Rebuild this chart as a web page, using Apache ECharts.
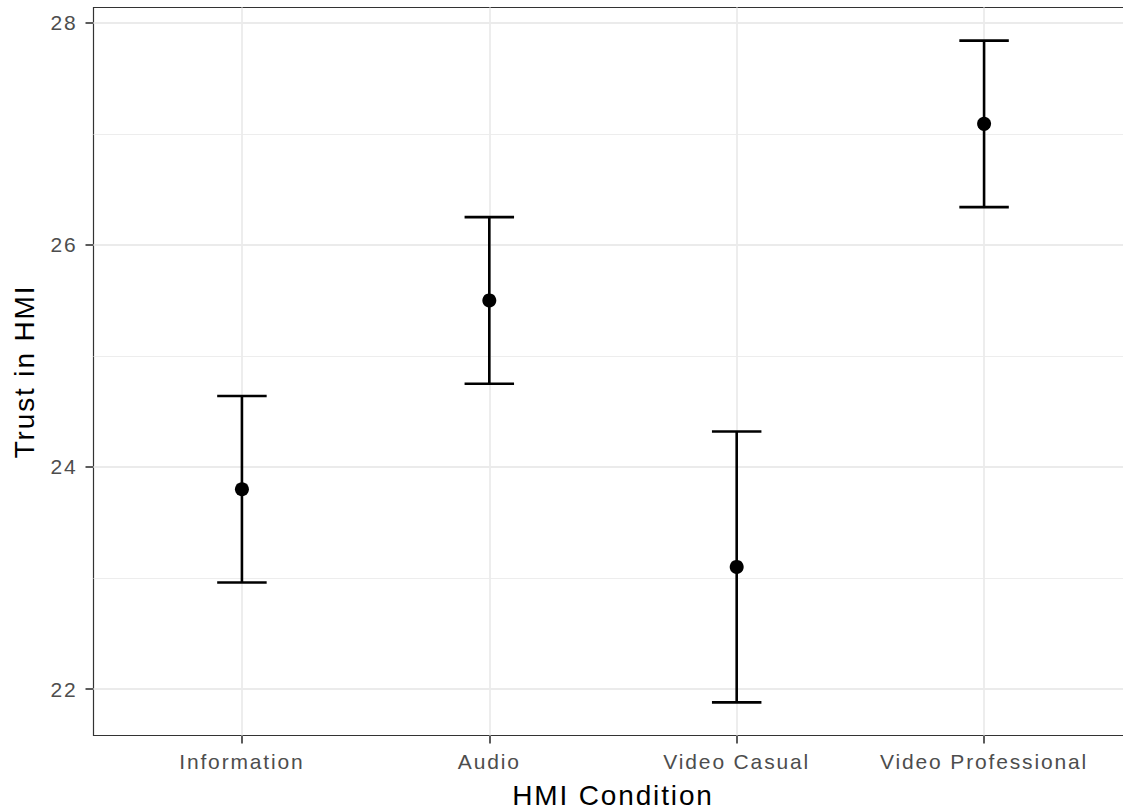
<!DOCTYPE html>
<html>
<head>
<meta charset="utf-8">
<script src="https://cdn.jsdelivr.net/npm/echarts@6/dist/echarts.min.js"></script>
<style>
  html, body { margin: 0; padding: 0; background: #ffffff; }
  #chart { width: 1123px; height: 811px; }
  /* slightly open tracking for all chart text */
  #chart text { letter-spacing: 1.85px; }
</style>
</head>
<body>
<div id="chart"></div>
<script>
// HMI conditions on the x axis
const categories = ['Information', 'Audio', 'Video Casual', 'Video Professional'];
// mean trust score per condition
const means = [23.80, 25.50, 23.10, 27.09];
// error bar limits per condition
const lowers = [22.96, 24.75, 21.88, 26.34];
const uppers = [24.64, 26.25, 24.32, 27.84];
// y axis breaks
const majorTicks = [22, 24, 26, 28];
const minorTicks = [23, 25, 27];

// continuous scale limits with 5% padding around the error bars
const lo = Math.min(...lowers), hi = Math.max(...uppers);
const pad = (hi - lo) * 0.05;
const yMin = lo - pad, yMax = hi + pad;

// discrete positions 1..n with 0.6 padding at each side
const positions = categories.map((_, i) => i + 1);
const xMin = 0.4, xMax = categories.length + 0.6;

const FONT = '"Liberation Sans", Arial, Helvetica, sans-serif';
const GRID = '#ebebeb';
const INK = '#333333';

const gridLines = [
  ...majorTicks.map(v => ({ yAxis: v, lineStyle: { color: GRID, width: 1.8, type: 'solid' } })),
  ...minorTicks.map(v => ({ yAxis: v, lineStyle: { color: GRID, width: 0.9, type: 'solid' } })),
  ...positions.map(v => ({ xAxis: v, lineStyle: { color: GRID, width: 1.8, type: 'solid' } }))
];

const chart = echarts.init(document.getElementById('chart'), null, { renderer: 'svg' });

chart.setOption({
  animation: false,
  backgroundColor: '#ffffff',
  grid: {
    left: 93.5, right: -9.5, top: 7.5, bottom: 75.5,
    outerBoundsMode: 'none',
    containLabel: false,
    show: true, borderColor: INK, borderWidth: 1.2, backgroundColor: 'transparent'
  },
  xAxis: {
    type: 'value',
    min: xMin, max: xMax,
    name: 'HMI Condition',
    nameLocation: 'middle',
    nameGap: 46,
    nameTextStyle: { fontFamily: FONT, fontSize: 28, color: '#000000' },
    axisLine: { show: false },
    splitLine: { show: false },
    axisTick: { show: true, customValues: positions, length: 8, lineStyle: { color: INK, width: 1.6 } },
    axisLabel: {
      customValues: positions,
      margin: 15,
      fontFamily: FONT, fontSize: 21, color: '#4d4d4d',
      formatter: v => categories[Math.round(v) - 1] || ''
    }
  },
  yAxis: {
    type: 'value',
    min: yMin, max: yMax,
    name: 'Trust in HMI',
    nameLocation: 'middle',
    nameGap: 55,
    nameRotate: 90,
    nameTextStyle: { fontFamily: FONT, fontSize: 28, color: '#000000' },
    axisLine: { show: false },
    splitLine: { show: false },
    axisTick: { show: true, customValues: majorTicks, length: 8, lineStyle: { color: INK, width: 1.6 } },
    axisLabel: {
      customValues: majorTicks,
      margin: 16,
      fontFamily: FONT, fontSize: 21, color: '#4d4d4d',
      formatter: v => String(v)
    }
  },
  series: [
    {
      // panel grid lines
      type: 'scatter',
      z: 1,
      silent: true,
      symbolSize: 0,
      data: positions.map((x, i) => [x, means[i]]),
      markLine: {
        silent: true,
        symbol: ['none', 'none'],
        label: { show: false },
        animation: false,
        data: gridLines
      }
    },
    {
      // error bars with caps 0.2 units wide
      type: 'custom',
      z: 5,
      data: positions.map((x, i) => [x, lowers[i], uppers[i]]),
      renderItem: (params, api) => {
        const x = api.value(0);
        const low = api.coord([x, api.value(1)]);
        const high = api.coord([x, api.value(2)]);
        const capL = api.coord([x - 0.1, api.value(1)])[0];
        const capR = api.coord([x + 0.1, api.value(1)])[0];
        const style = { stroke: '#000000', lineWidth: 2.6, fill: null };
        return {
          type: 'group',
          children: [
            { type: 'line', shape: { x1: low[0], y1: low[1], x2: high[0], y2: high[1] }, style },
            { type: 'line', shape: { x1: capL, y1: high[1], x2: capR, y2: high[1] }, style },
            { type: 'line', shape: { x1: capL, y1: low[1], x2: capR, y2: low[1] }, style }
          ]
        };
      }
    },
    {
      // condition means
      type: 'scatter',
      z: 6,
      symbol: 'circle',
      symbolSize: 14,
      itemStyle: { color: '#000000', opacity: 1 },
      data: positions.map((x, i) => [x, means[i]])
    }
  ]
});
</script>
</body>
</html>
